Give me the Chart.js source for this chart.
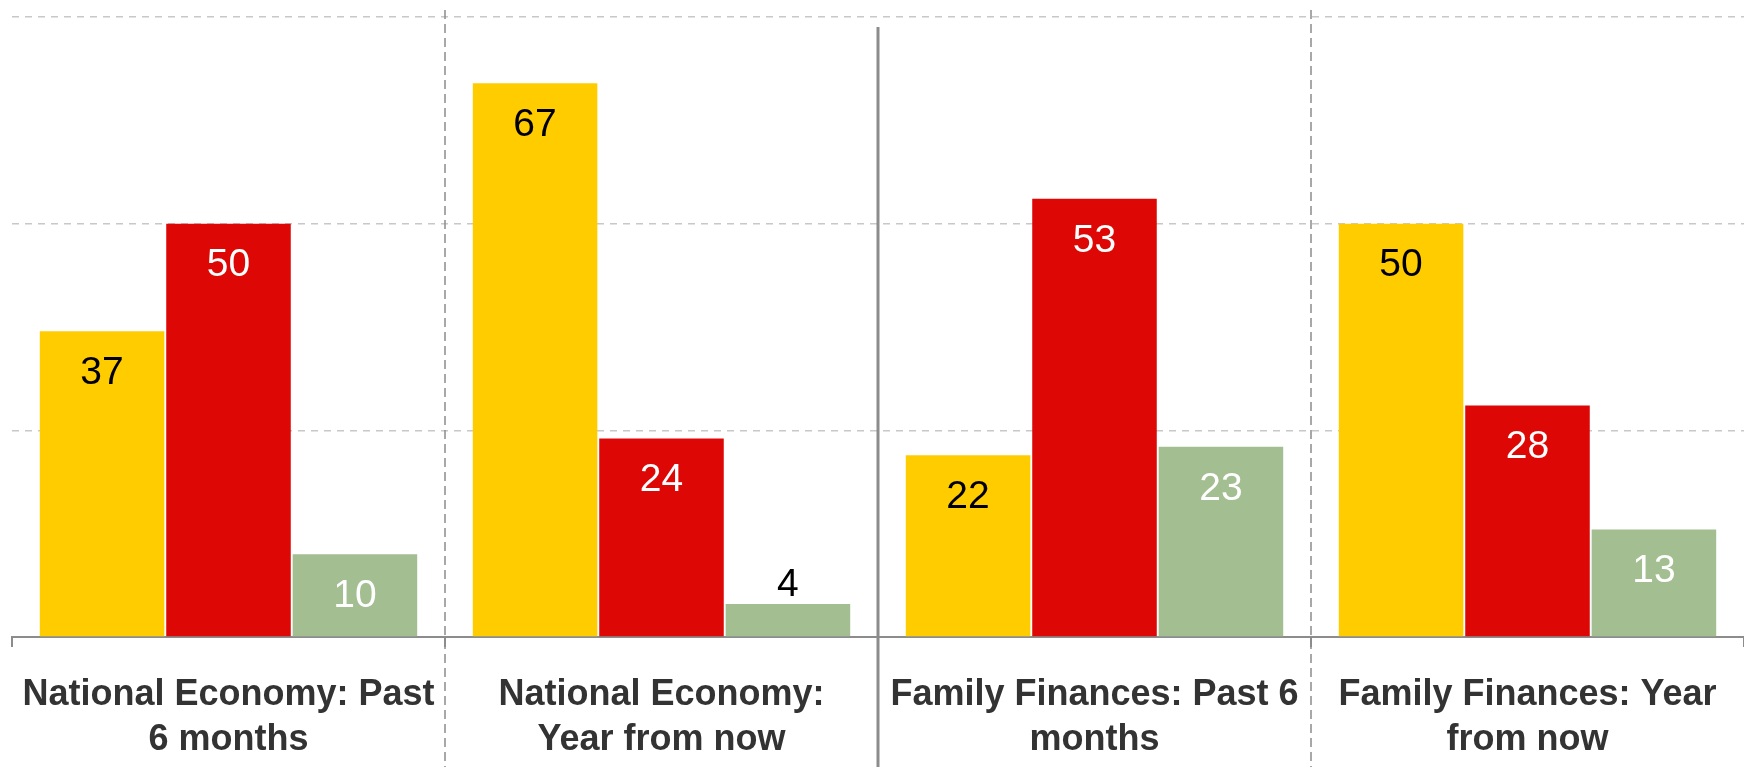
<!DOCTYPE html>
<html>
<head>
<meta charset="utf-8">
<script src="https://cdn.jsdelivr.net/npm/chart.js@4/dist/chart.umd.min.js"></script>
<style>
  html, body { margin: 0; padding: 0; background: #fff; }
  #wrap { width: 1744px; height: 767px; }
</style>
</head>
<body>
<div id="wrap"><canvas id="econChart"></canvas></div>
<script>
const categories = [
  ["National Economy: Past", "6 months"],
  ["National Economy:", "Year from now"],
  ["Family Finances: Past 6", "months"],
  ["Family Finances: Year", "from now"],
];
const better = [37, 67, 22, 50];
const worse = [50, 24, 53, 28];
const same = [10, 4, 23, 13];
const yTicks = [0, 25, 50, 75];

// draws the numbers on the bars (inside near the top, above if the bar is short)
const valueLabels = {
  id: "valueLabels",
  afterDatasetsDraw(chart) {
    const ctx = chart.ctx;
    ctx.save();
    ctx.font = "39px 'Liberation Sans', Arial, sans-serif";
    ctx.textAlign = "center";
    ctx.textBaseline = "middle";
    chart.data.datasets.forEach((ds, di) => {
      chart.getDatasetMeta(di).data.forEach((bar, i) => {
        const inside = bar.base - bar.y > 60;
        ctx.fillStyle = inside ? ds.labelColor : "#000";
        ctx.fillText(String(ds.data[i]), bar.x, inside ? bar.y + 42 : bar.y - 19);
      });
    });
    ctx.restore();
  },
};

// vertical separators between the categories
const separators = {
  id: "separators",
  afterDraw(chart) {
    const ctx = chart.ctx;
    const x = chart.scales.x;
    const area = chart.chartArea;
    ctx.save();
    for (let i = 1; i < categories.length; i++) {
      const px = (x.getPixelForValue(i - 1) + x.getPixelForValue(i)) / 2;
      ctx.beginPath();
      if (i === 2) {
        ctx.setLineDash([]);
        ctx.strokeStyle = "#8c8c8c";
        ctx.lineWidth = 3;
        ctx.moveTo(px, area.top + 10);
      } else {
        ctx.setLineDash([9, 5]);
        ctx.strokeStyle = "#8c8c8c";
        ctx.lineWidth = 1.5;
        ctx.moveTo(px, area.top - 7);
      }
      ctx.lineTo(px, chart.height);
      ctx.stroke();
    }
    ctx.restore();
  },
};

new Chart(document.getElementById("econChart"), {
  type: "bar",
  data: {
    labels: categories,
    datasets: [
      { label: "Better", data: better, backgroundColor: "#ffcc00", labelColor: "#000" },
      { label: "Worse", data: worse, backgroundColor: "#dd0806", labelColor: "#fff" },
      { label: "Same", data: same, backgroundColor: "#a3be90", labelColor: "#fff" },
    ],
  },
  options: {
    responsive: true,
    maintainAspectRatio: false,
    animation: false,
    categoryPercentage: 0.876,
    barPercentage: 0.985,
    layout: { padding: { top: 17, left: 12, right: 0, bottom: 0 } },
    plugins: {
      legend: { display: false },
      tooltip: { enabled: false },
    },
    scales: {
      x: {
        afterFit: (scale) => {
          scale.height = 130;
          scale.paddingLeft = 0;
          scale.paddingRight = 0;
        },
        border: { display: true, color: "#8c8c8c", width: 2 },
        grid: {
          offset: true,
          drawOnChartArea: false,
          drawTicks: true,
          tickLength: 10,
          color: "#8c8c8c",
          lineWidth: 2,
        },
        ticks: {
          color: "#333",
          padding: 25,
          maxRotation: 0,
          autoSkip: false,
          font: { family: "'Liberation Sans', Arial, sans-serif", size: 36, weight: "bold", lineHeight: 1.26 },
        },
      },
      y: {
        min: yTicks[0],
        max: yTicks[yTicks.length - 1],
        afterBuildTicks: (scale) => {
          scale.ticks = yTicks.map((v) => ({ value: v }));
        },
        border: { display: false, dash: [7, 6] },
        grid: {
          drawTicks: false,
          color: (c) => (c.tick && c.tick.value === 0 ? "rgba(0,0,0,0)" : "#c8c8c8"),
          lineWidth: 1.5,
        },
        ticks: { display: false },
      },
    },
  },
  plugins: [valueLabels, separators],
});
</script>
</body>
</html>
